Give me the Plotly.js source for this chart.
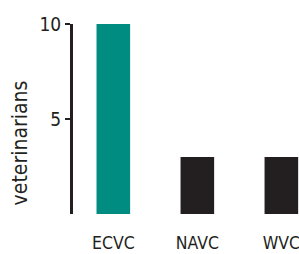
<!DOCTYPE html>
<html>
<head>
<meta charset="utf-8">
<script src="https://cdn.plot.ly/plotly-3.0.1.min.js"></script>
<style>html,body{margin:0;padding:0;background:#fff;}#chart{width:299px;height:254px;}</style>
</head>
<body>
<div id="chart"></div>
<script>
const categories = ["ECVC", "NAVC", "WVC"];
const veterinarians = [10, 3, 3];
const barColors = ["#008C80", "#231F20", "#231F20"];
const yTickVals = [5, 10];
const yTickText = ["5", "10"];
const yTitle = "veterinarians";

const font = "DejaVu Sans Condensed, Liberation Sans Narrow, sans-serif";
const ink = "#231F20";

Plotly.newPlot("chart", [{
  type: "bar",
  x: categories,
  y: veterinarians,
  marker: {color: barColors, line: {width: 0}},
  width: 0.4,
  hoverinfo: "none"
}], {
  width: 299, height: 254,
  margin: {l: 73, r: 0, t: 24, b: 40},
  paper_bgcolor: "#fff", plot_bgcolor: "#fff",
  showlegend: false,
  xaxis: {
    range: [-0.48, 2.21],
    showgrid: false, zeroline: false, showline: false,
    ticks: "", ticklabelstandoff: 16,
    tickfont: {family: font, size: 17.5, color: ink}
  },
  yaxis: {
    range: [0, 10],
    tickvals: yTickVals, ticktext: yTickText,
    showgrid: false, zeroline: false,
    showline: true, linewidth: 3, linecolor: ink,
    ticks: "outside", ticklen: 5, tickwidth: 2, tickcolor: ink,
    tickfont: {family: font, size: 19, color: ink}
  },
  annotations: [{
    text: yTitle, textangle: -90,
    xref: "paper", yref: "paper",
    x: -0.236, y: 0.375, xanchor: "center", yanchor: "middle",
    showarrow: false,
    font: {family: font, size: 21, color: ink}
  }]
}, {displayModeBar: false, staticPlot: true});
</script>
</body>
</html>
